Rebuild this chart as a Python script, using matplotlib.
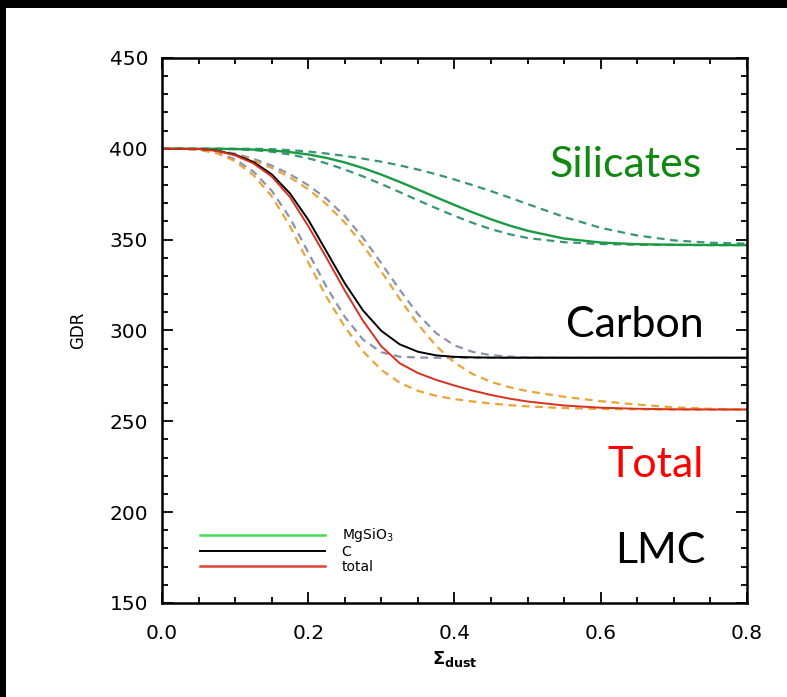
import matplotlib
matplotlib.use('Agg')
import matplotlib.pyplot as plt
from matplotlib.lines import Line2D
from matplotlib.patches import Rectangle
from matplotlib.ticker import MultipleLocator, FormatStrFormatter

plt.rcParams['font.family'] = ['DejaVu Sans']
plt.rcParams['mathtext.fontset'] = 'dejavusans'

# dust surface density grid
sigma = [0, 0.025, 0.05, 0.075, 0.1, 0.125, 0.15, 0.175, 0.2, 0.225, 0.25,
         0.275, 0.3, 0.325, 0.35, 0.375, 0.4, 0.425, 0.45, 0.475, 0.5,
         0.55, 0.6, 0.65, 0.7, 0.75, 0.8]

# silicates (MgSiO3)
sil = [400, 400, 400, 400, 399.9, 399.6, 399.1, 398.2, 396.9, 395, 392.5,
       389.4, 385.8, 381.8, 377.6, 373.3, 369.1, 365, 361.2, 357.8, 354.9,
       350.6, 348.4, 347.5, 347.2, 347.05, 347]
sil_hi = [400, 400, 400, 400, 400, 400, 399.8, 399.3, 398.5, 397.4, 396.1,
          394.6, 392.9, 390.9, 388.6, 386, 383.1, 380, 376.7, 373.2, 369.6,
          362.5, 356.5, 352.3, 349.6, 348.3, 347.8]
sil_lo = [400, 400, 400, 400, 399.8, 399.3, 398.4, 396.9, 394.8, 392, 388.6,
          384.8, 380.6, 376.2, 371.7, 367.3, 363.1, 359.2, 355.8, 353, 350.9,
          348.6, 347.6, 347.2, 347.05, 347, 347]

# carbon
carb = [400, 400, 399.9, 399, 396.8, 392.8, 386, 375.5, 361, 343.5, 326,
        311, 299.8, 292.4, 288.3, 286.3, 285.5, 285.2, 285.05, 285, 285,
        285, 285, 285, 285, 285, 285]
carb_lo = [400, 400, 399.6, 398, 394.2, 387.5, 377, 362, 343, 324, 307.5,
           295, 288, 285.6, 285.1, 285, 285, 285, 285, 285, 285,
           285, 285, 285, 285, 285, 285]
carb_hi = [400, 400, 399.8, 399.1, 397.3, 394.5, 390.8, 386, 380, 372.5, 363,
           351, 337, 322.5, 309, 298.5, 291.8, 288.2, 286.4, 285.6, 285.2,
           285, 285, 285, 285, 285, 285]

# total
tot = [400, 400, 399.9, 398.9, 396.4, 392, 384.8, 373.5, 357.5, 340, 322,
       305.3, 291.3, 282, 276.6, 272.8, 269.7, 266.9, 264.5, 262.5, 260.9,
       258.7, 257.5, 256.9, 256.6, 256.5, 256.5]
tot_lo = [400, 400, 399.5, 397.6, 393.2, 385.5, 374, 357.5, 337.5, 318.5, 302,
          288.5, 278.3, 271.3, 266.8, 264, 262.2, 260.9, 259.8, 258.9, 258.2,
          257.3, 256.8, 256.6, 256.5, 256.5, 256.5]
tot_hi = [400, 400, 399.8, 398.9, 396.8, 393.6, 389.5, 384.3, 377.8, 369.5, 359.5,
          347, 332.5, 317.5, 303.5, 291.5, 282.3, 276, 271.7, 268.8, 266.6,
          263.5, 261.1, 259.2, 257.7, 256.9, 256.5]

legend_labels = ['MgSiO$_3$', 'C', 'total']

fig = plt.figure(figsize=(7.87, 6.97), dpi=100, facecolor='white')
# black edges of the original screenshot
fig.add_artist(Rectangle((0, 1 - 8 / 697), 1, 8 / 697, transform=fig.transFigure,
                         facecolor='black', edgecolor='none'))
fig.add_artist(Rectangle((0, 0), 6 / 787, 1, transform=fig.transFigure,
                         facecolor='black', edgecolor='none'))
ax = fig.add_axes([0.2058, 0.1349, 0.7433, 0.7819])

dash = (0, (3.5, 2.5))
ax.plot(sigma, sil_hi, color='#3a9479', lw=1.6, ls=dash)
ax.plot(sigma, sil_lo, color='#3a9479', lw=1.6, ls=dash)
ax.plot(sigma, carb_lo, color='#8c93ad', lw=1.6, ls=dash)
ax.plot(sigma, carb_hi, color='#8c93ad', lw=1.6, ls=dash)
ax.plot(sigma, tot_lo, color='#e9a43a', lw=1.6, ls=dash)
ax.plot(sigma, tot_hi, color='#e9a43a', lw=1.6, ls=dash)
ax.plot(sigma, sil, color='#1a9a42', lw=1.7)
ax.plot(sigma, carb, color='black', lw=1.4)
ax.plot(sigma, tot, color='#d7301f', lw=1.4)

ax.set_xlim(0, 0.8)
ax.set_ylim(150, 450)
ax.xaxis.set_major_locator(MultipleLocator(0.2))
ax.xaxis.set_minor_locator(MultipleLocator(0.05))
ax.yaxis.set_major_locator(MultipleLocator(50))
ax.yaxis.set_minor_locator(MultipleLocator(10))
ax.xaxis.set_major_formatter(FormatStrFormatter('%.1f'))
ax.tick_params(which='both', direction='in', top=True, right=True, width=1.3)
ax.tick_params(which='major', length=8, labelsize=14.5)
ax.tick_params(which='minor', length=4.5)
ax.tick_params(axis='y', which='major', pad=10)
ax.tick_params(axis='x', which='major', pad=15)
for s in ax.spines.values():
    s.set_linewidth(1.8)

ax.set_ylabel('GDR', fontsize=12)
ax.yaxis.set_label_coords(-0.128, 0.5)
ax.set_xlabel(r'$\mathbf{\Sigma}_{\mathbf{dust}}$', fontsize=13)
ax.xaxis.set_label_coords(0.5, -0.085)

handles = [Line2D([], [], color='#44dd55', lw=1.8),
           Line2D([], [], color='black', lw=1.4),
           Line2D([], [], color='#e0443a', lw=1.8)]
ax.legend(handles, legend_labels, loc='center left', bbox_to_anchor=(0.065, 0.097),
          frameon=False, fontsize=10, handlelength=9, handletextpad=1.2,
          labelspacing=0.05, borderpad=0, borderaxespad=0)

big = dict(family=['Lato', 'DejaVu Sans'], fontsize=31, ha='right', va='baseline',
           transform=ax.transAxes)
ax.text(0.922, 0.782, 'Silicates', color='#118811', **big)
ax.text(0.926, 0.488, 'Carbon', color='black', **big)
ax.text(0.926, 0.231, 'Total', color='#ff0000', **big)
ax.text(0.929, 0.074, 'LMC', color='black', **big)

fig.savefig('out.png', dpi=100)
